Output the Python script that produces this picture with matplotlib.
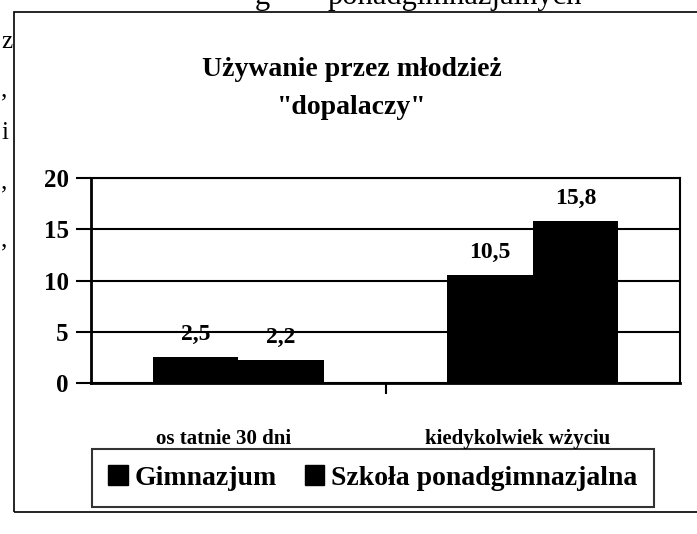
import matplotlib.pyplot as plt
from matplotlib.patches import Rectangle, Patch
from matplotlib.transforms import ScaledTranslation
import numpy as np

plt.rcParams['font.family'] = ['Liberation Serif', 'DejaVu Serif']
plt.rcParams['font.weight'] = 'bold'

categories = ["os tatnie 30 dni", "kiedykolwiek w\u017cyciu"]
series = ["Gimnazjum", "Szko\u0142a ponadgimnazjalna"]
gimnazjum = [2.5, 10.5]
szkola = [2.2, 15.8]
value_labels_g = ["2,5", "10,5"]
value_labels_s = ["2,2", "15,8"]
yticks = [0, 5, 10, 15, 20]

W, H = 697, 534
fig = plt.figure(figsize=(W / 100, H / 100), dpi=100)

def fx(px):
    return px / W

def fy(py):
    return 1 - py / H

# outer frame of the chart (runs off the right edge of the scan)
fig.patches.append(Rectangle((fx(14), fy(512)), fx(700) - fx(14), fy(12) - fy(512),
                             transform=fig.transFigure, fill=False,
                             edgecolor='black', linewidth=1.2))

# scraps of the surrounding page text
fig.text(fx(255), fy(4), "g", fontsize=22, fontweight='normal', va='baseline')
fig.text(fx(328), fy(4), "ponadgimnazjalnych", fontsize=22, fontweight='normal', va='baseline')
for ch, yy in [("z", 42), (",", 90), ("i", 133), (",", 182), (",", 240)]:
    fig.text(fx(1), fy(yy), ch, fontsize=18, fontweight='normal', va='center')

ax = fig.add_axes([fx(91), fy(383), fx(680) - fx(91), fy(178) - fy(383)])

x = np.arange(len(categories))
w = 0.29
b1 = ax.bar(x - w / 2, gimnazjum, w, color='black', label=series[0], zorder=3)
b2 = ax.bar(x + w / 2, szkola, w, color='black', label=series[1], zorder=3)

for rect, lab in zip(b1, value_labels_g):
    ax.text(rect.get_x() + rect.get_width() / 2, rect.get_height() + 1.2, lab,
            ha='center', va='bottom', fontsize=17, fontweight='bold')
for rect, lab in zip(b2, value_labels_s):
    ax.text(rect.get_x() + rect.get_width() / 2, rect.get_height() + 1.2, lab,
            ha='center', va='bottom', fontsize=17, fontweight='bold')

ax.set_xlim(-0.5, 1.5)
ax.set_ylim(0, 20)
ax.set_yticks(yticks)
ax.set_yticklabels([str(t) for t in yticks], fontsize=18, fontweight='bold')
ax.yaxis.grid(True, color='black', linewidth=1.5, zorder=0)
ax.tick_params(axis='y', length=11, width=1.5, pad=5)

ax.set_xticks(x)
ax.set_xticklabels(categories, fontsize=15, fontweight='bold')
ax.tick_params(axis='x', which='major', length=0, pad=33)
ax.set_xticks([0.5], minor=True)
ax.tick_params(axis='x', which='minor', length=8, width=1.5)
# category labels sit a little left of their bar groups in the original
shift = ScaledTranslation(-15 / 100, 0, fig.dpi_scale_trans)
for lbl in ax.get_xticklabels():
    lbl.set_transform(lbl.get_transform() + shift)

for s in ax.spines.values():
    s.set_linewidth(1.5)
ax.spines['bottom'].set_linewidth(2)
ax.spines['left'].set_linewidth(2)

fig.text(fx(352), fy(70), "U\u017cywanie przez m\u0142odzie\u017c", ha='center', va='center',
         fontsize=20, fontweight='bold')
fig.text(fx(352), fy(108), "\"dopalaczy\"", ha='center', va='center',
         fontsize=20, fontweight='bold')

handles = [Patch(facecolor='black', edgecolor='black'), Patch(facecolor='black', edgecolor='black')]
leg = fig.legend(handles, series, loc='center', bbox_to_anchor=(fx(373), fy(478)),
                 ncol=2, frameon=True, fancybox=False, edgecolor='black',
                 prop={'size': 20, 'weight': 'bold'}, handlelength=0.7, handleheight=0.7,
                 handletextpad=0.25, columnspacing=1.0, borderpad=0.6)
leg.get_frame().set_linewidth(1.5)

plt.savefig("out.png", dpi=100)
